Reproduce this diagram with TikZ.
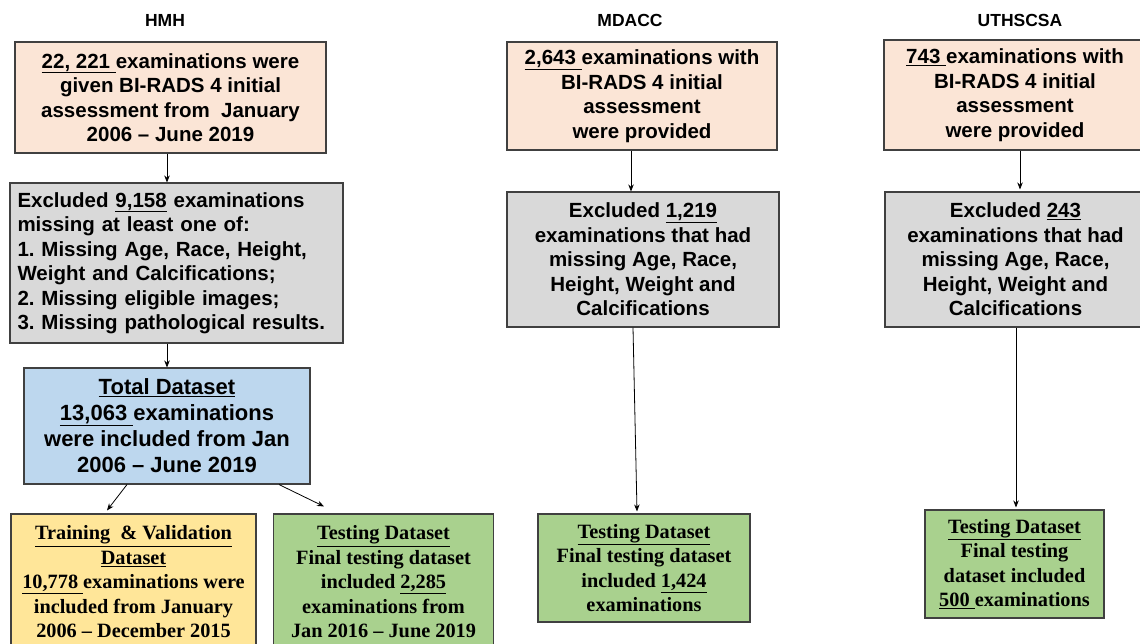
\documentclass[tikz,border=0pt]{standalone}
\usepackage{fontspec}
\setmainfont{Liberation Sans}
\newfontfamily\timesf[Ligatures=TeX]{Liberation Serif}
\usetikzlibrary{arrows.meta}
\frenchspacing
\definecolor{peach}{HTML}{FBE5D6}
\definecolor{grayf}{HTML}{D9D9D9}
\definecolor{bluef}{HTML}{BDD7EE}
\definecolor{yellowf}{HTML}{FFE699}
\definecolor{greenf}{HTML}{A9D18E}
\definecolor{edge}{HTML}{404040}
\tikzset{
 box/.style={draw=edge, line width=1.1pt, rectangle, inner sep=0pt, align=center, font=\bfseries\fontsize{20.5}{24.5}\selectfont},
 sbox/.style={box, font=\timesf\bfseries\fontsize{20.3}{24.5}\selectfont},
 head/.style={font=\bfseries\fontsize{17.5}{20}\selectfont},
 arr/.style={-{Stealth[length=7pt,width=5.5pt]}, line width=0.8pt},
}
\begin{document}
\begin{tikzpicture}[x=1pt,y=-1pt]
\fill[white] (0,0) rectangle (1140,644);
\useasboundingbox (0,0) rectangle (1140,644);

\node[head] (hA) at (165,20) {HMH};
\node[head] (hB) at (630,20) {MDACC};
\node[head] (hC) at (1020,20) {UTHSCSA};

\node[box, fill=peach, minimum width=311, minimum height=111] (A1) at (170.5,97.5)
 {\underline{22, 221\ }examinations were\\ given BI-RADS 4 initial\\ assessment from\ \ January\\ 2006 – June 2019};
\node[box, fill=grayf, minimum width=333, minimum height=160, align=left, text width=318] (A2) at (176.5,263)
 {Excluded \underline{9,158} examinations\\ missing at least one of:\\ 1. Missing Age, Race, Height,\\ Weight and Calcifications;\\ 2. Missing eligible images;\\ 3. Missing pathological results.};
\node[box, fill=bluef, minimum width=286, minimum height=116, font=\bfseries\fontsize{22}{26}\selectfont] (A3) at (167,426)
 {\underline{Total Dataset}\\ \underline{13,063\ }examinations\\ were included from Jan\\ 2006 – June 2019};
\node[sbox, fill=yellowf, minimum width=245, minimum height=136] (A4) at (133.5,582)
 {\underline{Training\ \ \& Validation}\\ \underline{Dataset}\\ \underline{10,778\ }examinations were\\ included from January\\ 2006 – December 2015};
\node[sbox, fill=greenf, minimum width=220, minimum height=136] (A5) at (383.5,582)
 {\underline{Testing Dataset}\\ Final testing dataset\\ included \underline{2,285}\\ examinations from\\ Jan 2016 – June 2019};

\node[box, fill=peach, minimum width=270, minimum height=108] (B1) at (642,96)
 {\underline{2,643\ }examinations with\\ BI-RADS 4 initial\\ assessment\\ were provided};
\node[box, fill=grayf, minimum width=272, minimum height=135] (B2) at (643,259.5)
 {Excluded \underline{1,219}\\ examinations that had\\ missing Age, Race,\\ Height, Weight and\\ Calcifications};
\node[sbox, fill=greenf, minimum width=212, minimum height=108] (B3) at (644,568)
 {\underline{Testing Dataset}\\ Final testing dataset\\ included \underline{1,424}\\ examinations};

\node[box, fill=peach, minimum width=262, minimum height=110] (C1) at (1015,95)
 {\underline{743\ }examinations with\\ BI-RADS 4 initial\\ assessment\\ were provided};
\node[box, fill=grayf, minimum width=261, minimum height=135] (C2) at (1015.5,259.5)
 {Excluded \underline{243}\\ examinations that had\\ missing Age, Race,\\ Height, Weight and\\ Calcifications};
\node[sbox, fill=greenf, minimum width=179, minimum height=108] (C3) at (1014.5,564)
 {\underline{Testing Dataset}\\ Final testing\\ dataset included\\ \underline{500\ }examinations};

\draw[arr] (A1.south -| A3.north) -- (A2.north -| A3.north);
\draw[arr] (A2.south -| A3.north) -- (A3.north);
\draw[arr] ([xshift=-40pt]A3.south) -- ([xshift=-26.5pt,yshift=3pt]A4.north);
\draw[arr] ([xshift=112pt]A3.south) -- ([xshift=-59.5pt,yshift=7pt]A5.north);

\draw[arr] ([xshift=-11pt]B1.south) -- ([xshift=-12pt]B2.north);
\draw[arr] ([xshift=-10pt]B2.south) -- ([xshift=-7pt,yshift=2pt]B3.north);

\draw[arr] ([xshift=5pt]C1.south) -- ([xshift=4.5pt,yshift=2pt]C2.north);
\draw[arr] ([xshift=0.5pt]C2.south) -- ([xshift=1.5pt,yshift=2pt]C3.north);
\end{tikzpicture}
\end{document}
